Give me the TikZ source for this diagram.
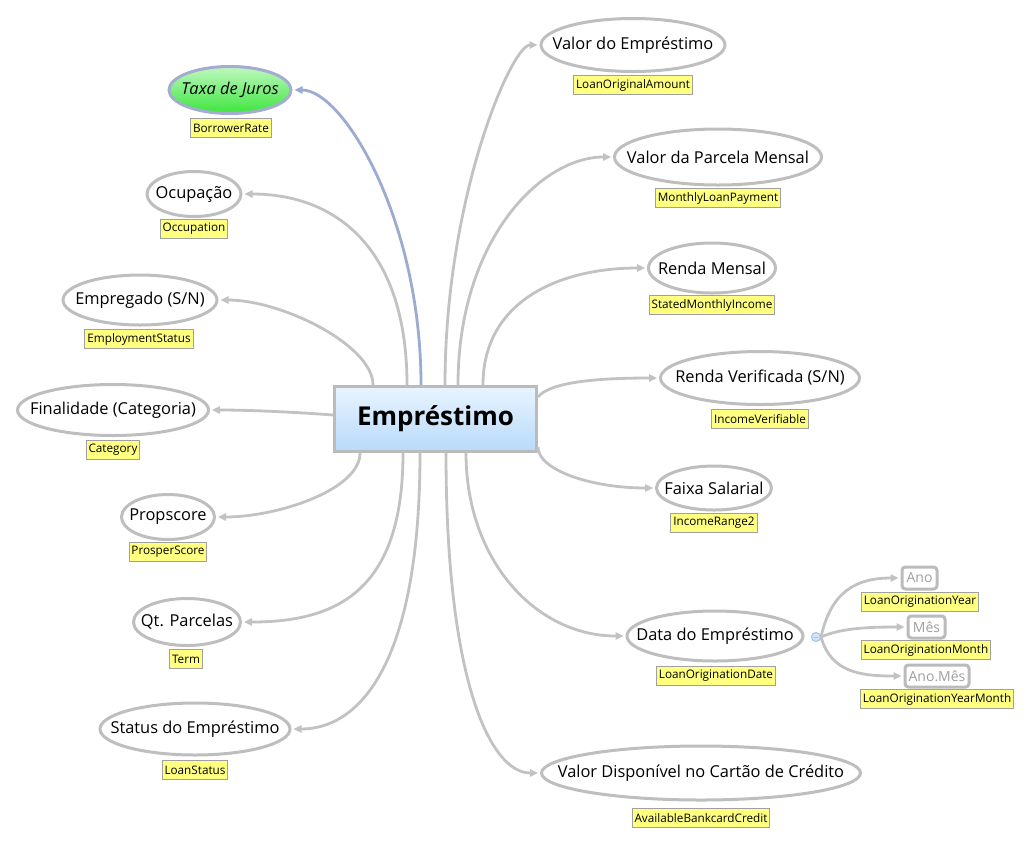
\documentclass[tikz,border=0pt]{standalone}
\usepackage{fontspec}
\setmainfont{Open Sans}
\usetikzlibrary{arrows.meta,calc,shapes.geometric}
\definecolor{ebord}{HTML}{BEBEBE}
\definecolor{cgray}{HTML}{C2C2C2}
\definecolor{cblue}{HTML}{9CACD0}
\definecolor{tbord}{HTML}{A4ACD0}
\definecolor{lblfill}{HTML}{FFFF80}
\definecolor{lblbord}{HTML}{A0A0A0}
\definecolor{boxbord}{HTML}{BBBBBB}
\definecolor{boxtop}{HTML}{E8F4FF}
\definecolor{boxbot}{HTML}{B8DAFA}
\definecolor{gtop}{HTML}{C0F8C0}
\definecolor{gbot}{HTML}{3CE63C}
\definecolor{subtext}{HTML}{A0A0A0}
\definecolor{colfill}{HTML}{D2E5FB}
\definecolor{colbord}{HTML}{9EC2EE}
\begin{document}
\begin{tikzpicture}[x=0.75pt,y=-0.75pt,
  sz/.style 2 args={minimum width={#1*0.75pt}, minimum height={#2*0.75pt}},
  topic/.style={ellipse, draw=ebord, line width=2.25pt, fill=white, inner sep=0pt},
  tfont/.style={font=\fontsize{12.3}{14}\selectfont, inner sep=0pt},
  lbl/.style={draw=lblbord, fill=lblfill, line width=0.75pt, inner xsep=1.8pt, inner ysep=1pt,
    minimum height={19*0.75pt}, font=\fontsize{8.8}{10}\selectfont},
  subtopic/.style={rectangle, rounded corners=2.5pt, draw=boxbord, line width=2.25pt,
    fill=white, inner sep=0pt, minimum height={22*0.75pt}, text=subtext,
    font=\fontsize{10.5}{12}\selectfont},
  conn/.style={draw=cgray, line width=2.1pt, -{Triangle[length=6pt,width=5.4pt]}, shorten >=1.5pt},
  connb/.style={conn, draw=cblue},
]
\useasboundingbox (0,0) rectangle (1029,844);
\fill[white] (0,0) rectangle (1029,844);

% central node
\node[rectangle, draw=boxbord, line width=2.25pt, top color=boxtop, bottom color=boxbot,
  sz={202}{65}, font=\fontsize{19.5}{22}\selectfont\bfseries] (box) at (435.5,419) {Empréstimo};

% left topics
\node[topic, draw=tbord, top color=gtop, bottom color=gbot, sz={122}{47},
  label={[tfont, font=\fontsize{12.3}{14}\selectfont\itshape]center:Taxa de Juros}] (taxa) at (230,90) {};
\node[topic, sz={94}{45}, label={[tfont]center:Ocupação}] (ocu) at (194,194) {};
\node[topic, sz={154}{50}, label={[tfont]center:Empregado (S/N)}] (emp) at (140,300) {};
\node[topic, sz={191}{51}, label={[tfont]center:Finalidade (Categoria)}] (fin) at (113,410) {};
\node[topic, sz={93}{45}, label={[tfont]center:Propscore}] (prop) at (168,517) {};
\node[topic, sz={107}{47}, label={[tfont]center:Qt. Parcelas}] (qt) at (187,622) {};
\node[topic, sz={190}{52}, label={[tfont]center:Status do Empréstimo}] (status) at (195,729) {};

% right topics
\node[topic, sz={184}{53}, label={[tfont]center:Valor do Empréstimo}] (valor) at (633,45) {};
\node[topic, sz={207}{56}, label={[tfont]center:Valor da Parcela Mensal}] (parcela) at (718,157) {};
\node[topic, sz={127}{50}, label={[tfont]center:Renda Mensal}] (rmensal) at (712,268) {};
\node[topic, sz={199}{53}, label={[tfont]center:Renda Verificada (S/N)}] (rverif) at (760,378) {};
\node[topic, sz={115}{44}, label={[tfont]center:Faixa Salarial}] (faixa) at (714,488) {};
\node[topic, sz={176}{50}, label={[tfont]center:Data do Empréstimo}] (data) at (715,636) {};
\node[topic, sz={319}{54}, label={[tfont]center:Valor Disponível no Cartão de Crédito}] (credito) at (701,773) {};

% sub topics
\node[circle, draw=colbord, fill=colfill, line width=0.75pt, minimum size={9*0.75pt}, inner sep=0pt] (col) at (816,637) {};
\draw[colbord, line width=0.75pt] ($(col.center)+(-2.4,0)$) -- ($(col.center)+(2.4,0)$);
\node[subtopic, minimum width={35*0.75pt}] (ano) at (919.5,578) {Ano};
\node[subtopic, minimum width={37*0.75pt}] (mes) at (926.5,627) {Mês};
\node[subtopic, minimum width={64*0.75pt}] (anomes) at (937,676) {Ano.Mês};

% labels
\node[lbl] (l1) at (231,128) {BorrowerRate};
\node[lbl] (l2) at (194,229) {Occupation};
\node[lbl] (l3) at (139,339) {EmploymentStatus};
\node[lbl] (l4) at (113,450) {Category};
\node[lbl] (l5) at (168,552) {ProsperScore};
\node[lbl] (l6) at (186,659) {Term};
\node[lbl] (l7) at (195,770) {LoanStatus};
\node[lbl] (l8) at (633,85) {LoanOriginalAmount};
\node[lbl] (l9) at (718,198) {MonthlyLoanPayment};
\node[lbl] (l10) at (712,305) {StatedMonthlyIncome};
\node[lbl] (l11) at (760,419) {IncomeVerifiable};
\node[lbl] (l12) at (714,523) {IncomeRange2};
\node[lbl] (l13) at (716,676) {LoanOriginationDate};
\node[lbl] (l14) at (701,818) {AvailableBankcardCredit};
\node[lbl] (l15) at (920,602) {LoanOriginationYear};
\node[lbl] (l16) at (926,650) {LoanOriginationMonth};
\node[lbl] (l17) at (937,699) {LoanOriginationYearMonth};

% connectors (left)
\draw[connb] ($(box.north west)+(88,0)$) .. controls +(0,-165) and +(51,0) .. (taxa.east);
\draw[conn] ($(box.north west)+(74,0)$) .. controls +(0,-135) and +(95,0) .. (ocu.east);
\draw[conn] ($(box.north west)+(40,0)$) .. controls +(0,-40) and +(63,0) .. (emp.east);
\draw[conn] ($(box.west)+(0,-4)$) .. controls +(-40,-3) and +(40,0) .. (fin.east);
\draw[conn] ($(box.south west)+(27,0)$) .. controls +(0,37) and +(61,0) .. (prop.east);
\draw[conn] ($(box.south west)+(70,0)$) .. controls +(0,137) and +(96,0) .. (qt.east);
\draw[conn] ($(box.south west)+(87,0)$) .. controls +(0,207) and +(70,0) .. (status.east);
% connectors (right)
\draw[conn] ($(box.north west)+(112,0)$) .. controls +(0,-187) and +(-28,0) .. (valor.west);
\draw[conn] ($(box.north west)+(125,0)$) .. controls +(0,-145) and +(-72,0) .. (parcela.west);
\draw[conn] ($(box.north west)+(150,0)$) .. controls +(0,-85) and +(-86,0) .. (rmensal.west);
\draw[conn] ($(box.north east)+(0,12)$) .. controls +(12,-15) and +(-62,0) .. (rverif.west);
\draw[conn] ($(box.south east)+(0,-6)$) .. controls +(0,23) and +(-64,0) .. (faixa.west);
\draw[conn] ($(box.south west)+(133,0)$) .. controls +(0,107) and +(-90,0) .. (data.west);
\draw[conn] ($(box.south west)+(113,0)$) .. controls +(0,227) and +(-50,0) .. (credito.west);
% sub connectors
\draw[conn] (col.east) .. controls +(10,-45) and +(-45,0) .. (ano.west);
\draw[conn] (col.east) .. controls +(20,-9) and +(-37,0) .. (mes.west);
\draw[conn] (col.east) .. controls +(10,35) and +(-44,0) .. (anomes.west);
\end{tikzpicture}
\end{document}
